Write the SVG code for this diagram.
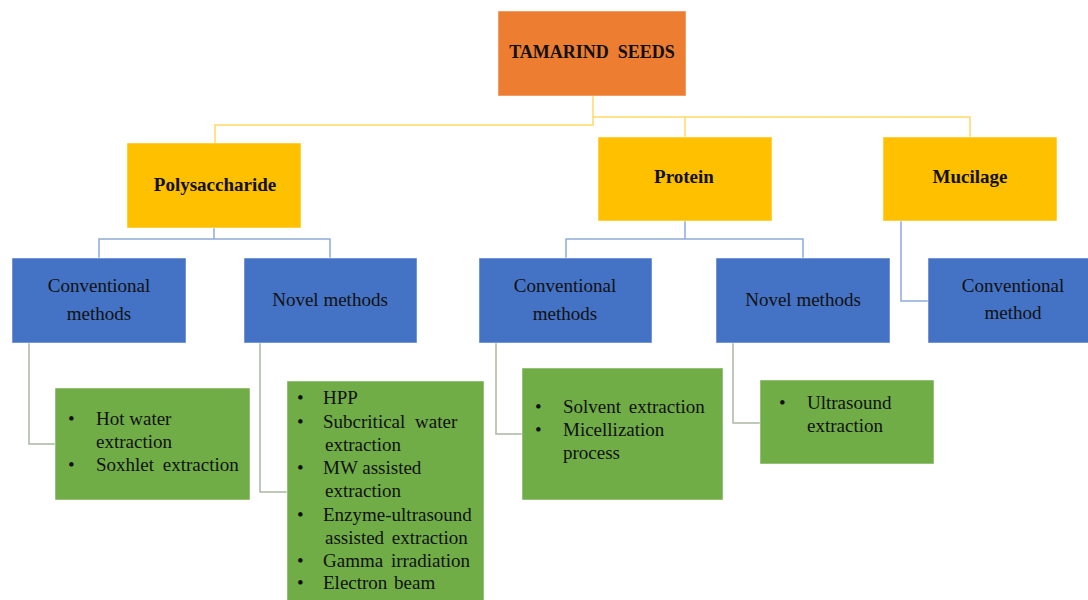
<svg xmlns="http://www.w3.org/2000/svg" width="1088" height="600" viewBox="0 0 1088 600" font-family="'Liberation Serif', 'Times New Roman', Tinos, 'DejaVu Serif', serif">
<style>
.root{fill:#ED7D31}
.yel{fill:#FFC000}
.blu{fill:#4472C4}
.grn{fill:#70AD47}
rect{stroke:#ffffff;stroke-opacity:0.5;stroke-width:1}
text{font-family:'Liberation Serif', 'Times New Roman', Tinos, 'DejaVu Serif', serif;font-size:19px;fill:#111111}
.b{font-weight:bold}
.c{text-anchor:middle}
.ly{fill:none;stroke:#FFD966;stroke-width:1.5}
.lb{fill:none;stroke:#8FAADC;stroke-width:1.5}
.lg{fill:none;stroke:#A9B8A2;stroke-width:1.5}
</style>
<rect width="1088" height="600" fill="#ffffff" stroke="none"/>
<g id="connectors">
<path class="ly" d="M593,96 V125 H215 V143"/>
<path class="ly" d="M593,117 H970 V137 M685,117 V137"/>
<path class="lb" d="M214,228 V239 M99,258 V239 H330 V258"/>
<path class="lb" d="M685,221 V239 M566,258 V239 H803 V258"/>
<path class="lb" d="M901,221 V301 H928"/>
<path class="lg" d="M29,343 V444 H55"/>
<path class="lg" d="M260,343 V492 H287"/>
<path class="lg" d="M496,343 V434 H522"/>
<path class="lg" d="M733,343 V423 H760"/>
</g>
<g id="root">
<rect class="root" x="498" y="11" width="188" height="85"/>
<text class="b c" x="592" y="58" style="font-size:18px" xml:space="preserve">TAMARIND  SEEDS</text>
</g>
<g id="polysaccharide">
<rect class="yel" x="127" y="143" width="174" height="85"/>
<text class="b c" x="215" y="191">Polysaccharide</text>
</g>
<g id="protein">
<rect class="yel" x="598" y="137" width="174" height="84"/>
<text class="b c" x="684" y="183">Protein</text>
</g>
<g id="mucilage">
<rect class="yel" x="883" y="137" width="174" height="84"/>
<text class="b c" x="970" y="183">Mucilage</text>
</g>
<g id="poly-conventional">
<rect class="blu" x="12" y="258" width="174" height="85"/>
<text class="c" x="99" y="292">Conventional</text>
<text class="c" x="99" y="320">methods</text>
</g>
<g id="poly-novel">
<rect class="blu" x="244" y="258" width="173" height="85"/>
<text class="c" x="330" y="306">Novel methods</text>
</g>
<g id="protein-conventional">
<rect class="blu" x="479" y="258" width="173" height="85"/>
<text class="c" x="565" y="292">Conventional</text>
<text class="c" x="565" y="320">methods</text>
</g>
<g id="protein-novel">
<rect class="blu" x="716" y="258" width="174" height="85"/>
<text class="c" x="803" y="306">Novel methods</text>
</g>
<g id="mucilage-conventional">
<rect class="blu" x="928" y="258" width="174" height="85"/>
<text class="c" x="1013" y="292">Conventional</text>
<text class="c" x="1013" y="319">method</text>
</g>
<g id="poly-conventional-list">
<rect class="grn" x="55" y="388" width="195" height="112"/>
<text x="68" y="425">•</text><text x="96" y="425">Hot water</text>
<text x="96" y="448">extraction</text>
<text x="68" y="471">•</text><text x="96" y="471" word-spacing="4">Soxhlet extraction</text>
</g>
<g id="poly-novel-list">
<rect class="grn" x="287" y="381" width="197" height="225"/>
<text x="297" y="404">•</text><text x="323" y="404">HPP</text>
<text x="297" y="428">•</text><text x="323" y="428" word-spacing="5">Subcritical water</text>
<text x="325" y="451">extraction</text>
<text x="297" y="474">•</text><text x="323" y="474">MW assisted</text>
<text x="325" y="497">extraction</text>
<text x="297" y="521">•</text><text x="323" y="521">Enzyme-ultrasound</text>
<text x="325" y="544" word-spacing="3">assisted extraction</text>
<text x="297" y="567">•</text><text x="323" y="567" word-spacing="3">Gamma irradiation</text>
<text x="297" y="589">•</text><text x="323" y="589" word-spacing="2">Electron beam</text>
</g>
<g id="protein-conventional-list">
<rect class="grn" x="522" y="368" width="201" height="132"/>
<text x="535" y="413">•</text><text x="563" y="413" word-spacing="3">Solvent extraction</text>
<text x="535" y="436">•</text><text x="563" y="436">Micellization</text>
<text x="563" y="459">process</text>
</g>
<g id="protein-novel-list">
<rect class="grn" x="760" y="380" width="174" height="84"/>
<text x="779" y="409">•</text><text x="807" y="409">Ultrasound</text>
<text x="807" y="432">extraction</text>
</g>
</svg>
